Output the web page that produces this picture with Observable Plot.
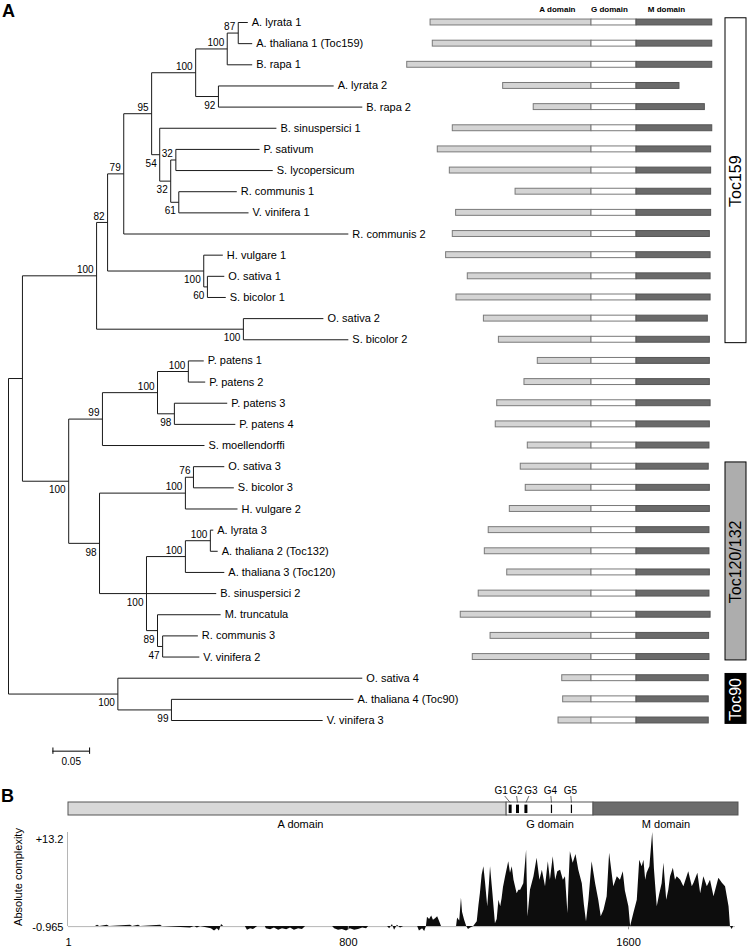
<!DOCTYPE html>
<html><head><meta charset="utf-8">
<script src="https://cdn.jsdelivr.net/npm/d3@7"></script>
<script src="https://cdn.jsdelivr.net/npm/@observablehq/plot@0.6"></script>
<style>
body{margin:0;background:#fff;font-family:Arial,"Liberation Sans",sans-serif}
#wrap{position:relative;width:747px;height:948px;overflow:hidden;background:#fff}
#wrap svg{position:absolute;left:0;top:0}
.lbl{position:absolute;font-weight:bold;font-size:18px;line-height:1;font-family:Arial,"Liberation Sans",sans-serif}
#ytitle{position:absolute;left:18px;top:877px;transform:translate(-50%,-50%) rotate(-90deg);font-size:11px;white-space:nowrap;font-family:Arial,"Liberation Sans",sans-serif}
</style></head><body>
<div id="wrap">
  <div class="lbl" style="left:2px;top:2px">A</div>
  <div class="lbl" style="left:1px;top:787px">B</div>
  <div id="ytitle">Absolute complexity</div>
</div>
<script>
// ---------------- DATA ----------------
const leafNames = ["A. lyrata 1","A. thaliana 1 (Toc159)","B. rapa 1","A. lyrata 2","B. rapa 2","B. sinuspersici 1","P. sativum","S. lycopersicum","R. communis 1","V. vinifera 1","R. communis 2","H. vulgare 1","O. sativa 1","S. bicolor 1","O. sativa 2","S. bicolor 2","P. patens 1","P. patens 2","P. patens 3","P. patens 4","S. moellendorffi","O. sativa 3","S. bicolor 3","H. vulgare 2","A. lyrata 3","A. thaliana 2 (Toc132)","A. thaliana 3 (Toc120)","B. sinuspersici 2","M. truncatula","R. communis 3","V. vinifera 2","O. sativa 4","A. thaliana 4 (Toc90)","V. vinifera 3"];
// distance from root (substitutions per site)
const leafDepth = [0.326,0.332,0.332,0.443,0.482,0.365,0.342,0.360,0.311,0.327,0.463,0.292,0.294,0.296,0.429,0.463,0.266,0.268,0.298,0.309,0.267,0.294,0.307,0.312,0.279,0.285,0.294,0.283,0.289,0.258,0.260,0.482,0.470,0.428];

const nodeIds = ["root","n100m","n100e","n82","n79","n95","n100b","n100a","n87","n92","n54","n32b","n32a","n61","n100c","n60","n100d","n100l","n99","n100g","n100f","n98p","n98c","n100h","n76","nX","n100j","n100i","n89","n47","n100n","n99b"];
const nodeChildren = [
  ["n100m","n100n"],["n100e","n100l"],["n82","n100d"],["n79","n100c"],["n95",10],
  ["n100b","n54"],["n100a","n92"],["n87",2],[0,1],[3,4],[5,"n32b"],["n32a","n61"],
  [6,7],[8,9],[11,"n60"],[12,13],[14,15],["n99","n98c"],["n100g",20],["n100f","n98p"],
  [16,17],[18,19],["n100h","nX"],["n76",23],[21,22],["n100j",27,"n89"],["n100i",26],
  [24,25],[28,"n47"],[29,30],[31,"n99b"],[32,33]
];
const nodeDepth = [0,0.019,0.120,0.135,0.157,0.195,0.255,0.298,0.313,0.286,0.206,0.221,0.228,0.232,0.266,0.271,0.320,0.082,0.128,0.203,0.245,0.226,0.124,0.241,0.252,0.188,0.241,0.275,0.203,0.210,0.149,0.222];
const nodeSupport = [null,null,100,82,79,95,100,100,87,92,54,32,32,61,100,60,100,100,99,100,100,98,98,100,76,100,100,100,89,47,100,99];
const scaleBarLength = 0.05;

// domain architecture (residues, aligned on G-domain start)
const aDomainLen = [869,857,995,477,312,749,830,765,410,731,749,785,668,729,581,500,290,362,509,517,344,382,355,441,555,576,455,609,706,545,641,158,153,178];
const gDomainLen = 243;
const mDomainLen = [409,409,409,232,369,409,403,403,403,403,396,400,400,400,385,396,396,396,400,396,394,390,396,396,394,394,396,394,400,392,394,390,390,390];
const domainHeaders = ["A domain","G domain","M domain"];

const groupNames = ["Toc159","Toc120/132","Toc90"];
const groupFirst = [0,21,31];
const groupLast = [15,30,33];

// panel B
const proteinDomains = ["A","G","M"];
const proteinDomainStart = [1,1252,1500];
const proteinDomainEnd = [1252,1500,1914];
const motifNames = ["G1","G2","G3","G4","G5"];
const motifPos = [1262,1283,1307,1380,1437];
const xTicks = [1,800,1600];
const yTickMax = 13.2;
const yTickMin = -0.965;
const complexityProfile = [
[1,0],[78,0],[84,0.2],[90,0],[112,0.2],[118,0],[178,0.2],[184,0],[201,0.2],[207,0],[264,0.2],[269,0],
[349,-0.2],[361,0],[369,-0.2],[378,0],[409,-0.3],[418,-0.6],[426,-0.3],[432,-0.6],[438,0.3],[444,0],
[506,0],[512,-0.5],[521,-0.3],[529,-0.4],[541,0],[563,0],[566,-0.3],[578,-0.45],[589,-0.2],[601,-0.5],
[612,-0.3],[624,-0.45],[635,-0.2],[646,-0.5],[658,-0.3],[669,-0.4],[678,0],[755,0],[761,-0.3],[772,-0.5],
[783,-0.4],[795,-0.6],[806,-0.3],[818,-0.5],[829,-0.4],[841,-0.2],[852,-0.3],[858,0],[912,0],[918,-0.3],
[926,0.3],[932,-0.5],[940,0.2],[949,-0.2],[958,0],[998,0],[1003,-0.6],[1012,-0.3],[1018,-0.7],[1023,0],
[1026,1.3],[1032,1.0],[1038,1.5],[1043,0.9],[1049,1.1],[1055,1.4],[1060,0.8],[1066,0],[1109,0],[1112,1.2],
[1118,0.8],[1123,4.0],[1126,2.0],[1132,0.9],[1138,0],[1143,-0.4],[1149,-0.2],[1158,0],
[1168,0.7],[1173,3.0],[1177,4.6],[1182,7.2],[1187,8.4],[1192,6.0],[1198,2.8],[1203,6.0],[1206,8.4],[1213,4.5],
[1220,0.4],[1225,1.0],[1230,3.7],[1235,2.8],[1239,3.9],[1243,5.5],[1249,7.0],[1258,9.1],[1263,7.5],[1268,8.4],
[1273,6.5],[1282,4.6],[1287,5.1],[1292,5.1],[1301,6.0],[1309,10.7],[1313,1.4],[1320,5.1],[1330,7.0],[1339,9.6],
[1347,6.5],[1354,7.9],[1363,5.6],[1371,9.1],[1377,6.5],[1385,9.8],[1392,6.5],[1398,7.7],[1406,7.9],[1414,6.5],
[1420,7.0],[1427,1.8],[1430,6.0],[1434,10.5],[1442,8.9],[1450,10.1],[1458,7.9],[1468,6.0],[1474,3.0],[1480,0.7],
[1487,3.7],[1496,9.1],[1506,6.0],[1515,3.7],[1522,1.4],[1530,2.3],[1539,4.2],[1546,10.3],[1558,5.6],[1568,7.0],
[1577,6.5],[1585,7.7],[1591,5.0],[1601,2.8],[1606,0],[1615,1.8],[1625,3.7],[1632,9.3],[1639,8.4],[1644,9.3],
[1649,6.5],[1653,7.5],[1661,8.4],[1669,13.2],[1674,8.0],[1682,2.8],[1689,4.5],[1696,6.0],[1701,8.9],[1709,3.7],
[1715,5.1],[1720,7.0],[1728,8.2],[1734,6.5],[1739,7.0],[1749,6.5],[1758,5.6],[1772,7.7],[1782,5.6],[1787,6.1],
[1798,7.5],[1806,4.6],[1815,7.0],[1825,5.6],[1834,6.5],[1844,4.2],[1858,6.8],[1868,6.1],[1877,5.6],[1887,2.8],
[1891,0],[1896,-0.4],[1900,0]
];

// ---------------- LAYOUT / STYLE ----------------
const W = 747, H = 948;
const FONT = "Arial, 'Liberation Sans', sans-serif";
const baseStyle = {background: "transparent", fontFamily: FONT, overflow: "visible"};
const treeY = {domain: [0, 33], range: [22, 720], axis: null};
const wrap = document.getElementById("wrap");

// ---------------- TREE ----------------
const nodeById = new Map();
nodeIds.forEach((id, k) => nodeById.set(id, {id, children: nodeChildren[k], depth: nodeDepth[k], support: nodeSupport[k]}));
function yOf(c) {
  if (typeof c === "number") return c;
  const n = nodeById.get(c);
  if (n.y === undefined) n.y = (yOf(n.children[0]) + yOf(n.children[n.children.length - 1])) / 2;
  return n.y;
}
function depthOf(c) { return typeof c === "number" ? leafDepth[c] : nodeById.get(c).depth; }
const segments = [];
for (const n of nodeById.values()) {
  const ys = n.children.map(yOf);
  segments.push({x1: n.depth, x2: n.depth, y1: d3.min(ys), y2: d3.max(ys)});
  n.children.forEach((c, j) => {
    segments.push({x1: n.depth, x2: depthOf(c), y1: yOf(c), y2: yOf(c)});
    if (typeof c !== "number") nodeById.get(c).side = j === 0 ? "above" : "below";
  });
}
const supports = [...nodeById.values()].filter(n => n.support != null)
  .map(n => ({x: n.depth, y: yOf(n.id), s: String(n.support), side: n.side}));
const leaves = leafNames.map((name, i) => ({name, x: leafDepth[i], y: i}));
const sbStart = 0.0605, sbY = 34.45;

wrap.appendChild(Plot.plot({
  width: W, height: H, margin: 0, style: baseStyle,
  x: {domain: [0, 1], range: [8, 742], axis: null},
  y: treeY,
  marks: [
    Plot.link(segments, {x1: "x1", x2: "x2", y1: "y1", y2: "y2", stroke: "#1a1a1a", strokeWidth: 1}),
    Plot.text(leaves, {x: "x", y: "y", text: "name", textAnchor: "start", dx: 4, fontSize: 11, fill: "#000"}),
    Plot.text(supports.filter(d => d.side === "above"), {x: "x", y: "y", text: "s", textAnchor: "end", dx: -3, dy: -6, fontSize: 10, fill: "#000"}),
    Plot.text(supports.filter(d => d.side === "below"), {x: "x", y: "y", text: "s", textAnchor: "end", dx: -3, dy: 9, fontSize: 10, fill: "#000"}),
    Plot.ruleY([scaleBarLength], {x1: () => sbStart, x2: d => sbStart + d, y: () => sbY, stroke: "#000"}),
    Plot.ruleX([sbStart, sbStart + scaleBarLength], {y1: () => sbY - 0.15, y2: () => sbY + 0.15, stroke: "#000"}),
    Plot.text([scaleBarLength], {x: d => sbStart + d / 2, y: () => sbY + 0.48, text: d => d.toFixed(2), fontSize: 10, fill: "#000"})
  ]
}));

// ---------------- DOMAIN BARS ----------------
const rows = leafNames.map((name, i) => ({i, a: aDomainLen[i], m: mDomainLen[i]}));
const hb = 0.14;
const headerX = {"A domain": -184, "G domain": 97, "M domain": 405};
wrap.appendChild(Plot.plot({
  width: W, height: H, margin: 0, style: baseStyle,
  x: {domain: [-1000, 500], range: [405.8, 683.6], axis: null},
  y: treeY,
  marks: [
    Plot.rect(rows, {x1: d => -d.a, x2: () => 0, y1: d => d.i - hb, y2: d => d.i + hb, fill: "#d4d4d4", stroke: "#7a7a7a", strokeWidth: 1}),
    Plot.rect(rows, {x1: () => 0, x2: () => gDomainLen, y1: d => d.i - hb, y2: d => d.i + hb, fill: "#fff", stroke: "#7a7a7a", strokeWidth: 1}),
    Plot.rect(rows, {x1: () => gDomainLen, x2: d => gDomainLen + d.m, y1: d => d.i - hb, y2: d => d.i + hb, fill: "#6a6a6a", stroke: "#555", strokeWidth: 1}),
    Plot.text(domainHeaders, {x: d => headerX[d], y: () => -0.62, text: d => d, fontSize: 8, fontWeight: "bold", fill: "#000"})
  ]
}));

// ---------------- GROUP BOXES ----------------
const groups = groupNames.map((name, k) => ({name, first: groupFirst[k], last: groupLast[k]}));
const groupFill = {"Toc159": "#ffffff", "Toc120/132": "#adadad", "Toc90": "#000000"};
const groupText = {"Toc159": "#000000", "Toc120/132": "#000000", "Toc90": "#ffffff"};
wrap.appendChild(Plot.plot({
  width: W, height: H, margin: 0, style: baseStyle,
  x: {type: "band", domain: ["g"], range: [725, 746], padding: 0, axis: null},
  y: treeY,
  color: {type: "identity"},
  marks: [
    Plot.barY(groups, {x: () => "g", y1: d => d.first - 0.2, y2: d => d.last + 0.16, fill: d => groupFill[d.name], stroke: "#000", strokeWidth: 1}),
    Plot.text(groups, {x: () => "g", y: d => (d.first + d.last) / 2, text: "name", rotate: -90, fontSize: 16, fill: d => groupText[d.name]})
  ]
}));

// ---------------- PANEL B: protein schematic ----------------
const bx = {domain: [1, 1914], range: [68, 738], axis: null};
const pDomains = proteinDomains.map((d, k) => ({d, s: proteinDomainStart[k], e: proteinDomainEnd[k]}));
const pFill = {A: "#d8d8d8", G: "#ffffff", M: "#6b6b6b"};
const motifs = motifNames.map((name, k) => ({name, pos: motifPos[k]}));
const thick = new Set(["G1", "G2", "G3"]);
const nudgePx = {G1: -9, G2: -1.5, G3: 5, G4: -1, G5: -1};
const pxPerRes = 670 / 1913;
wrap.appendChild(Plot.plot({
  width: W, height: H, margin: 0, style: baseStyle,
  x: bx,
  y: {domain: [0, 1], range: [815, 802], axis: null},
  color: {type: "identity"},
  marks: [
    Plot.rect(pDomains, {x1: "s", x2: "e", y1: () => 0, y2: () => 1, fill: d => pFill[d.d], stroke: "#555", strokeWidth: 1}),
    Plot.ruleX(motifs.filter(d => thick.has(d.name)), {x: "pos", y1: () => 0.15, y2: () => 0.8, stroke: "#000", strokeWidth: 3}),
    Plot.ruleX(motifs.filter(d => !thick.has(d.name)), {x: "pos", y1: () => 0.15, y2: () => 0.8, stroke: "#000", strokeWidth: 1.2}),
    Plot.link(motifs, {x1: d => d.pos + 0.6 * nudgePx[d.name] / pxPerRes, x2: "pos", y1: () => 1.5, y2: () => 1.0, stroke: "#444", strokeWidth: 0.8}),
    Plot.text(motifs, {x: d => d.pos + nudgePx[d.name] / pxPerRes, y: () => 1.93, text: "name", fontSize: 10, fill: "#000"}),
    Plot.text(pDomains, {x: d => (d.s + d.e) / 2 + (d.d === "A" ? 37 : 0), y: () => -0.72, text: d => d.d + " domain", fontSize: 11, fill: "#000"})
  ]
}));

// ---------------- PANEL B: complexity profile ----------------
wrap.appendChild(Plot.plot({
  width: W, height: H, margin: 0, style: baseStyle,
  x: bx,
  y: {domain: [yTickMin, yTickMax], range: [933, 832], axis: null},
  marks: [
    Plot.ruleX([1], {y1: () => 0, y2: () => yTickMax, stroke: "#b5b5b5", dx: -1}),
    Plot.ruleY([0], {x1: () => 1, x2: () => 1905, stroke: "#b5b5b5"}),
    Plot.areaY(complexityProfile, {x: d => d[0], y: d => d[1], fill: "#0d0d0d", curve: "linear"}),
    Plot.ruleX(xTicks.slice(1), {y1: () => 0, y2: () => -0.45, stroke: "#999"}),
    Plot.text(xTicks, {x: d => d, y: () => yTickMin, dy: 9, text: d => String(d), fontSize: 11, fill: "#000"}),
    Plot.text([yTickMax], {x: () => 1, y: d => d, dx: -5, dy: 7, text: d => "+" + d.toFixed(1), textAnchor: "end", fontSize: 11, fill: "#000"}),
    Plot.text([yTickMin], {x: () => 1, y: d => d, dx: -5, dy: -6, text: d => d.toFixed(3), textAnchor: "end", fontSize: 11, fill: "#000"})
  ]
}));
</script>
</body></html>
